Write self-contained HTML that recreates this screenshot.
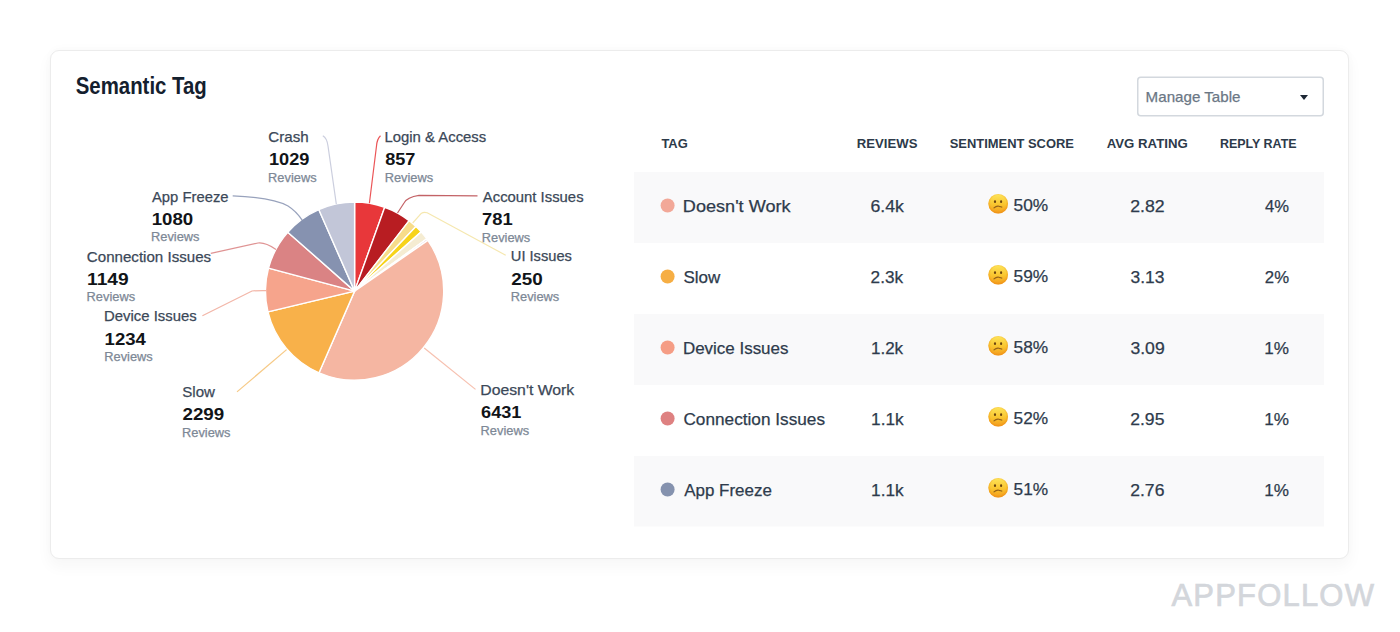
<!DOCTYPE html>
<html><head><meta charset="utf-8">
<style>
html,body{margin:0;padding:0;background:#fff;width:1400px;height:632px;overflow:hidden}
body{position:relative;font-family:"Liberation Sans",sans-serif}
.card{position:absolute;left:50px;top:50px;width:1297px;height:507px;border:1px solid #ececec;border-radius:9px;background:#fff;box-shadow:0 7px 14px 2px rgba(0,0,0,0.03),0 -2px 8px rgba(0,0,0,0.02)}
svg{position:absolute;left:0;top:0}
</style></head>
<body>
<div class="card"></div>
<svg width="1400" height="632" viewBox="0 0 1400 632" font-family="Liberation Sans, sans-serif">
<defs>
<linearGradient id="eg" x1="0" y1="0" x2="0" y2="1">
<stop offset="0" stop-color="#fde55a"/>
<stop offset="0.55" stop-color="#f9c42e"/>
<stop offset="1" stop-color="#f39a1c"/>
</linearGradient>
<radialGradient id="eg2" cx="0.5" cy="0.45" r="0.5">
<stop offset="0.75" stop-color="#f7a825" stop-opacity="0"/>
<stop offset="1" stop-color="#ee9016" stop-opacity="0.55"/>
</radialGradient>
</defs>

<g stroke="#fff" stroke-width="1.4" stroke-linejoin="round">
<path d="M354.6 291.1L354.60 202.00A89.1 89.1 0 0 1 384.71 207.24Z" fill="#e8373a"/>
<path d="M354.6 291.1L384.71 207.24A89.1 89.1 0 0 1 409.14 220.64Z" fill="#b81d22"/>
<path d="M354.6 291.1L409.14 220.64A89.1 89.1 0 0 1 415.94 226.47Z" fill="#f7dc8a"/>
<path d="M354.6 291.1L415.94 226.47A89.1 89.1 0 0 1 421.17 231.88Z" fill="#f7d31a"/>
<path d="M354.6 291.1L421.17 231.88A89.1 89.1 0 0 1 426.78 238.86Z" fill="#f5ecd2"/>
<path d="M354.6 291.1L426.78 238.86A89.1 89.1 0 0 1 427.88 240.41Z" fill="#d3b5c4"/>
<path d="M354.6 291.1L427.88 240.41A89.1 89.1 0 0 1 319.05 372.80Z" fill="#f5b6a2"/>
<path d="M354.6 291.1L319.05 372.80A89.1 89.1 0 0 1 267.97 311.91Z" fill="#f8b14a"/>
<path d="M354.6 291.1L267.97 311.91A89.1 89.1 0 0 1 268.51 268.15Z" fill="#f6a48c"/>
<path d="M354.6 291.1L268.51 268.15A89.1 89.1 0 0 1 287.77 232.17Z" fill="#da8384"/>
<path d="M354.6 291.1L287.77 232.17A89.1 89.1 0 0 1 318.77 209.52Z" fill="#8692b0"/>
<path d="M354.6 291.1L318.77 209.52A89.1 89.1 0 0 1 354.60 202.00Z" fill="#c2c6d8"/>
</g>

<g fill="none" stroke-width="1.2" stroke-opacity="0.85">
<path d="M322.8 135.7Q327 138 328 146L336.3 204" stroke="#c2c6d8"/>
<path d="M380.5 135.7Q377 139 376.5 146L369.4 203.3" stroke="#e8373a"/>
<path d="M232.7 195.8C260 197 279 201 288 206Q296 211 302.3 220.3" stroke="#8692b0"/>
<path d="M477.5 195.8L419 195.3Q407 197 404 203L397.5 213" stroke="#b8474b"/>
<path d="M505.7 255.3L427.2 212.8Q422 211 419 216L412.7 223" stroke="#f3e3a0"/>
<path d="M210.8 253.4L258 243Q265 242 276 249.4" stroke="#d98080"/>
<path d="M202.4 315.7L252 291Q256 290.5 266 290.6" stroke="#f0a898"/>
<path d="M237 391.9L286.6 349.6" stroke="#f5c070"/>
<path d="M475.5 389.4L424.2 348" stroke="#f4b5a1"/>
</g>

<rect x="1137.75" y="77.25" width="185.5" height="38.5" rx="3" fill="#fff" stroke="#d3d8de" stroke-width="1.5"/>
<path d="M1300 95L1308 95L1304 100Z" fill="#1d2735"/>

<rect x="634" y="172" width="690" height="71" fill="#f9f9fa"/>
<rect x="634" y="314" width="690" height="71" fill="#f9f9fa"/>
<rect x="634" y="456" width="690" height="70.5" fill="#f9f9fa"/>
<circle cx="667.6" cy="205.5" r="7" fill="#f2a898"/>
<circle cx="667.6" cy="276.5" r="7" fill="#f6ae44"/>
<circle cx="667.6" cy="347.5" r="7" fill="#f59d85"/>
<circle cx="667.6" cy="418.5" r="7" fill="#de8181"/>
<circle cx="667.6" cy="489.5" r="7" fill="#8592ae"/>

<g transform="translate(998.2 203.8)"><circle cx="0" cy="0" r="9.8" fill="url(#eg)"/><circle cx="0" cy="0" r="9.8" fill="url(#eg2)"/><ellipse cx="-3.2" cy="-2.1" rx="1.1" ry="1.35" fill="#6b4410"/><ellipse cx="2.9" cy="-2.1" rx="1.1" ry="1.35" fill="#6b4410"/><path d="M-4.2 4.1Q-1.5 1.6 1 2.5Q2.6 2.8 3.5 3.3" stroke="#946218" stroke-width="1.2" fill="none" stroke-linecap="round"/></g>
<g transform="translate(998.2 274.8)"><circle cx="0" cy="0" r="9.8" fill="url(#eg)"/><circle cx="0" cy="0" r="9.8" fill="url(#eg2)"/><ellipse cx="-3.2" cy="-2.1" rx="1.1" ry="1.35" fill="#6b4410"/><ellipse cx="2.9" cy="-2.1" rx="1.1" ry="1.35" fill="#6b4410"/><path d="M-4.2 4.1Q-1.5 1.6 1 2.5Q2.6 2.8 3.5 3.3" stroke="#946218" stroke-width="1.2" fill="none" stroke-linecap="round"/></g>
<g transform="translate(998.2 345.8)"><circle cx="0" cy="0" r="9.8" fill="url(#eg)"/><circle cx="0" cy="0" r="9.8" fill="url(#eg2)"/><ellipse cx="-3.2" cy="-2.1" rx="1.1" ry="1.35" fill="#6b4410"/><ellipse cx="2.9" cy="-2.1" rx="1.1" ry="1.35" fill="#6b4410"/><path d="M-4.2 4.1Q-1.5 1.6 1 2.5Q2.6 2.8 3.5 3.3" stroke="#946218" stroke-width="1.2" fill="none" stroke-linecap="round"/></g>
<g transform="translate(998.2 416.8)"><circle cx="0" cy="0" r="9.8" fill="url(#eg)"/><circle cx="0" cy="0" r="9.8" fill="url(#eg2)"/><ellipse cx="-3.2" cy="-2.1" rx="1.1" ry="1.35" fill="#6b4410"/><ellipse cx="2.9" cy="-2.1" rx="1.1" ry="1.35" fill="#6b4410"/><path d="M-4.2 4.1Q-1.5 1.6 1 2.5Q2.6 2.8 3.5 3.3" stroke="#946218" stroke-width="1.2" fill="none" stroke-linecap="round"/></g>
<g transform="translate(998.2 487.8)"><circle cx="0" cy="0" r="9.8" fill="url(#eg)"/><circle cx="0" cy="0" r="9.8" fill="url(#eg2)"/><ellipse cx="-3.2" cy="-2.1" rx="1.1" ry="1.35" fill="#6b4410"/><ellipse cx="2.9" cy="-2.1" rx="1.1" ry="1.35" fill="#6b4410"/><path d="M-4.2 4.1Q-1.5 1.6 1 2.5Q2.6 2.8 3.5 3.3" stroke="#946218" stroke-width="1.2" fill="none" stroke-linecap="round"/></g>

<text x="75.74" y="93.9" font-size="23" font-weight="700" fill="#14202e" textLength="131.06" lengthAdjust="spacingAndGlyphs">Semantic Tag</text>
<text x="268.34" y="141.6" font-size="15" font-weight="400" fill="#3b4858" stroke="#3b4858" stroke-width="0.25" textLength="40.33" lengthAdjust="spacingAndGlyphs">Crash</text>
<text x="268.93" y="165.4" font-size="17" font-weight="700" fill="#111418" textLength="40.49" lengthAdjust="spacingAndGlyphs">1029</text>
<text x="268.07" y="181.5" font-size="12.5" font-weight="400" fill="#7d8896" stroke="#7d8896" stroke-width="0.25" textLength="48.54" lengthAdjust="spacingAndGlyphs">Reviews</text>
<text x="384.46" y="141.6" font-size="15" font-weight="400" fill="#3b4858" stroke="#3b4858" stroke-width="0.25" textLength="101.80" lengthAdjust="spacingAndGlyphs">Login &amp; Access</text>
<text x="385.17" y="165.2" font-size="17" font-weight="700" fill="#111418" textLength="30.30" lengthAdjust="spacingAndGlyphs">857</text>
<text x="384.67" y="181.5" font-size="12.5" font-weight="400" fill="#7d8896" stroke="#7d8896" stroke-width="0.25" textLength="48.54" lengthAdjust="spacingAndGlyphs">Reviews</text>
<text x="152.00" y="201.5" font-size="15" font-weight="400" fill="#3b4858" stroke="#3b4858" stroke-width="0.25" textLength="76.54" lengthAdjust="spacingAndGlyphs">App Freeze</text>
<text x="151.70" y="224.9" font-size="17" font-weight="700" fill="#111418" textLength="41.53" lengthAdjust="spacingAndGlyphs">1080</text>
<text x="150.97" y="241.1" font-size="12.5" font-weight="400" fill="#7d8896" stroke="#7d8896" stroke-width="0.25" textLength="48.54" lengthAdjust="spacingAndGlyphs">Reviews</text>
<text x="482.80" y="201.6" font-size="15" font-weight="400" fill="#3b4858" stroke="#3b4858" stroke-width="0.25" textLength="100.76" lengthAdjust="spacingAndGlyphs">Account Issues</text>
<text x="481.99" y="224.8" font-size="17" font-weight="700" fill="#111418" textLength="30.61" lengthAdjust="spacingAndGlyphs">781</text>
<text x="481.77" y="241.7" font-size="12.5" font-weight="400" fill="#7d8896" stroke="#7d8896" stroke-width="0.25" textLength="48.54" lengthAdjust="spacingAndGlyphs">Reviews</text>
<text x="86.84" y="261.6" font-size="15" font-weight="400" fill="#3b4858" stroke="#3b4858" stroke-width="0.25" textLength="124.26" lengthAdjust="spacingAndGlyphs">Connection Issues</text>
<text x="87.07" y="284.9" font-size="17" font-weight="700" fill="#111418" textLength="41.55" lengthAdjust="spacingAndGlyphs">1149</text>
<text x="86.57" y="301.3" font-size="12.5" font-weight="400" fill="#7d8896" stroke="#7d8896" stroke-width="0.25" textLength="48.54" lengthAdjust="spacingAndGlyphs">Reviews</text>
<text x="510.82" y="261.2" font-size="15" font-weight="400" fill="#3b4858" stroke="#3b4858" stroke-width="0.25" textLength="61.10" lengthAdjust="spacingAndGlyphs">UI Issues</text>
<text x="511.25" y="284.5" font-size="17" font-weight="700" fill="#111418" textLength="31.45" lengthAdjust="spacingAndGlyphs">250</text>
<text x="510.77" y="301.3" font-size="12.5" font-weight="400" fill="#7d8896" stroke="#7d8896" stroke-width="0.25" textLength="48.54" lengthAdjust="spacingAndGlyphs">Reviews</text>
<text x="104.06" y="321.3" font-size="15" font-weight="400" fill="#3b4858" stroke="#3b4858" stroke-width="0.25" textLength="92.61" lengthAdjust="spacingAndGlyphs">Device Issues</text>
<text x="104.61" y="344.5" font-size="17" font-weight="700" fill="#111418" textLength="41.28" lengthAdjust="spacingAndGlyphs">1234</text>
<text x="104.27" y="361.0" font-size="12.5" font-weight="400" fill="#7d8896" stroke="#7d8896" stroke-width="0.25" textLength="48.54" lengthAdjust="spacingAndGlyphs">Reviews</text>
<text x="182.25" y="397.1" font-size="15" font-weight="400" fill="#3b4858" stroke="#3b4858" stroke-width="0.25" textLength="32.67" lengthAdjust="spacingAndGlyphs">Slow</text>
<text x="182.45" y="420.4" font-size="17" font-weight="700" fill="#111418" textLength="41.79" lengthAdjust="spacingAndGlyphs">2299</text>
<text x="181.97" y="436.9" font-size="12.5" font-weight="400" fill="#7d8896" stroke="#7d8896" stroke-width="0.25" textLength="48.54" lengthAdjust="spacingAndGlyphs">Reviews</text>
<text x="480.28" y="395.1" font-size="15" font-weight="400" fill="#3b4858" stroke="#3b4858" stroke-width="0.25" textLength="93.96" lengthAdjust="spacingAndGlyphs">Doesn't Work</text>
<text x="481.07" y="417.7" font-size="17" font-weight="700" fill="#111418" textLength="40.28" lengthAdjust="spacingAndGlyphs">6431</text>
<text x="480.57" y="434.8" font-size="12.5" font-weight="400" fill="#7d8896" stroke="#7d8896" stroke-width="0.25" textLength="48.54" lengthAdjust="spacingAndGlyphs">Reviews</text>
<text x="1145.64" y="101.7" font-size="15" font-weight="400" fill="#6b7785" stroke="#6b7785" stroke-width="0.25" textLength="94.79" lengthAdjust="spacingAndGlyphs">Manage Table</text>
<text x="661.40" y="147.6" font-size="13" font-weight="700" fill="#2d3a4a" textLength="26.33" lengthAdjust="spacingAndGlyphs">TAG</text>
<text x="856.84" y="147.6" font-size="13" font-weight="700" fill="#2d3a4a" textLength="60.63" lengthAdjust="spacingAndGlyphs">REVIEWS</text>
<text x="949.75" y="147.6" font-size="13" font-weight="700" fill="#2d3a4a" textLength="124.21" lengthAdjust="spacingAndGlyphs">SENTIMENT SCORE</text>
<text x="1106.75" y="147.6" font-size="13" font-weight="700" fill="#2d3a4a" textLength="80.95" lengthAdjust="spacingAndGlyphs">AVG RATING</text>
<text x="1219.88" y="147.6" font-size="13" font-weight="700" fill="#2d3a4a" textLength="76.76" lengthAdjust="spacingAndGlyphs">REPLY RATE</text>
<text x="682.87" y="211.8" font-size="17" font-weight="400" fill="#2e3b4c" stroke="#2e3b4c" stroke-width="0.25" textLength="107.66" lengthAdjust="spacingAndGlyphs">Doesn't Work</text>
<text x="870.42" y="211.8" font-size="17" font-weight="400" fill="#2e3b4c" stroke="#2e3b4c" stroke-width="0.25" textLength="33.43" lengthAdjust="spacingAndGlyphs">6.4k</text>
<text x="1013.54" y="211.0" font-size="17" font-weight="400" fill="#2e3b4c" stroke="#2e3b4c" stroke-width="0.25" textLength="34.60" lengthAdjust="spacingAndGlyphs">50%</text>
<text x="1130.22" y="212.0" font-size="17" font-weight="400" fill="#2e3b4c" stroke="#2e3b4c" stroke-width="0.25" textLength="34.46" lengthAdjust="spacingAndGlyphs">2.82</text>
<text x="1265.06" y="211.8" font-size="17" font-weight="400" fill="#2e3b4c" stroke="#2e3b4c" stroke-width="0.25" textLength="24.01" lengthAdjust="spacingAndGlyphs">4%</text>
<text x="683.45" y="282.8" font-size="17" font-weight="400" fill="#2e3b4c" stroke="#2e3b4c" stroke-width="0.25" textLength="36.81" lengthAdjust="spacingAndGlyphs">Slow</text>
<text x="870.64" y="282.8" font-size="17" font-weight="400" fill="#2e3b4c" stroke="#2e3b4c" stroke-width="0.25" textLength="32.50" lengthAdjust="spacingAndGlyphs">2.3k</text>
<text x="1013.54" y="282.0" font-size="17" font-weight="400" fill="#2e3b4c" stroke="#2e3b4c" stroke-width="0.25" textLength="34.60" lengthAdjust="spacingAndGlyphs">59%</text>
<text x="1130.49" y="283.0" font-size="17" font-weight="400" fill="#2e3b4c" stroke="#2e3b4c" stroke-width="0.25" textLength="33.92" lengthAdjust="spacingAndGlyphs">3.13</text>
<text x="1264.86" y="282.8" font-size="17" font-weight="400" fill="#2e3b4c" stroke="#2e3b4c" stroke-width="0.25" textLength="24.21" lengthAdjust="spacingAndGlyphs">2%</text>
<text x="682.95" y="353.8" font-size="17" font-weight="400" fill="#2e3b4c" stroke="#2e3b4c" stroke-width="0.25" textLength="105.52" lengthAdjust="spacingAndGlyphs">Device Issues</text>
<text x="870.95" y="353.8" font-size="17" font-weight="400" fill="#2e3b4c" stroke="#2e3b4c" stroke-width="0.25" textLength="32.19" lengthAdjust="spacingAndGlyphs">1.2k</text>
<text x="1013.54" y="353.0" font-size="17" font-weight="400" fill="#2e3b4c" stroke="#2e3b4c" stroke-width="0.25" textLength="34.60" lengthAdjust="spacingAndGlyphs">58%</text>
<text x="1130.48" y="354.0" font-size="17" font-weight="400" fill="#2e3b4c" stroke="#2e3b4c" stroke-width="0.25" textLength="34.19" lengthAdjust="spacingAndGlyphs">3.09</text>
<text x="1264.34" y="353.8" font-size="17" font-weight="400" fill="#2e3b4c" stroke="#2e3b4c" stroke-width="0.25" textLength="24.74" lengthAdjust="spacingAndGlyphs">1%</text>
<text x="683.44" y="424.8" font-size="17" font-weight="400" fill="#2e3b4c" stroke="#2e3b4c" stroke-width="0.25" textLength="141.59" lengthAdjust="spacingAndGlyphs">Connection Issues</text>
<text x="871.13" y="424.8" font-size="17" font-weight="400" fill="#2e3b4c" stroke="#2e3b4c" stroke-width="0.25" textLength="32.61" lengthAdjust="spacingAndGlyphs">1.1k</text>
<text x="1013.54" y="424.0" font-size="17" font-weight="400" fill="#2e3b4c" stroke="#2e3b4c" stroke-width="0.25" textLength="34.60" lengthAdjust="spacingAndGlyphs">52%</text>
<text x="1130.23" y="425.0" font-size="17" font-weight="400" fill="#2e3b4c" stroke="#2e3b4c" stroke-width="0.25" textLength="34.19" lengthAdjust="spacingAndGlyphs">2.95</text>
<text x="1264.34" y="424.8" font-size="17" font-weight="400" fill="#2e3b4c" stroke="#2e3b4c" stroke-width="0.25" textLength="24.74" lengthAdjust="spacingAndGlyphs">1%</text>
<text x="684.20" y="495.8" font-size="17" font-weight="400" fill="#2e3b4c" stroke="#2e3b4c" stroke-width="0.25" textLength="87.64" lengthAdjust="spacingAndGlyphs">App Freeze</text>
<text x="871.13" y="495.8" font-size="17" font-weight="400" fill="#2e3b4c" stroke="#2e3b4c" stroke-width="0.25" textLength="32.61" lengthAdjust="spacingAndGlyphs">1.1k</text>
<text x="1013.54" y="495.0" font-size="17" font-weight="400" fill="#2e3b4c" stroke="#2e3b4c" stroke-width="0.25" textLength="34.60" lengthAdjust="spacingAndGlyphs">51%</text>
<text x="1130.23" y="496.0" font-size="17" font-weight="400" fill="#2e3b4c" stroke="#2e3b4c" stroke-width="0.25" textLength="34.19" lengthAdjust="spacingAndGlyphs">2.76</text>
<text x="1264.34" y="495.8" font-size="17" font-weight="400" fill="#2e3b4c" stroke="#2e3b4c" stroke-width="0.25" textLength="24.74" lengthAdjust="spacingAndGlyphs">1%</text>
<text x="1171.4" y="606.2" font-size="31" font-weight="400" fill="#d3d6db" stroke="#d3d6db" stroke-width="0.7" letter-spacing="1.2">APPFOLLOW</text>
</svg>
</body></html>
